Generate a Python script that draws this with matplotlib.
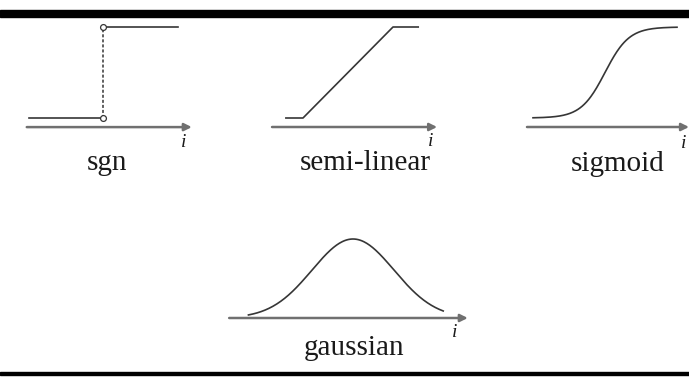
import numpy as np
import matplotlib
matplotlib.use("Agg")
import matplotlib.pyplot as plt
from matplotlib.patches import Rectangle

W, H = 689, 383

# --- data (function shapes)
labels = ["sgn", "semi-linear", "sigmoid", "gaussian"]

sgn_low_x = [-1.0, 0.0]
sgn_low_y = [-1.0, -1.0]
sgn_high_x = [0.0, 1.01]
sgn_high_y = [1.0, 1.0]

semi_x = [-0.19, 0.0, 1.0, 1.28]
semi_y = [0.0, 0.0, 1.0, 1.0]

sig_range = (-6.0, 6.0)      # i range drawn for the sigmoid
gauss_range = (-2.55, 2.2)   # i range drawn for the gaussian (sigma = 1)

# axis (arrow) extents per panel: (start, end, level)
axis_sgn = (-1.03, 1.2, -1.2)
axis_semi = (-0.344, 1.49, -0.099)
axis_sig = (-6.5, 7.0, -0.099)
axis_gauss = (-3.02, 2.8, 0.0)

curve_col = "#363636"
axis_col = "#707070"
text_col = "#1a1a1a"

fig = plt.figure(figsize=(W / 100, H / 100), dpi=100)
fig.patch.set_facecolor("white")


def panel(x_org, y_org, sx, sy, box):
    # box in pixels (left, top, right, bottom); origin/scale give data->pixel mapping
    l, t, r, b = box
    ax = fig.add_axes([l / W, 1 - b / H, (r - l) / W, (b - t) / H])
    ax.set_xlim((l - x_org) / sx, (r - x_org) / sx)
    ax.set_ylim((y_org - b) / sy, (y_org - t) / sy)
    ax.axis("off")
    return ax


def arrow(ax, spec):
    x0, x1, y = spec
    ax.annotate("", xy=(x1, y), xytext=(x0, y),
                arrowprops=dict(arrowstyle="-|>", color=axis_col, lw=1.8,
                                mutation_scale=11, shrinkA=0, shrinkB=0),
                annotation_clip=False)


# sgn
ax1 = panel(103, 72.5, 74, 45.5, (15, 18, 205, 140))
arrow(ax1, axis_sgn)
ax1.plot(sgn_low_x, sgn_low_y, color=curve_col, lw=1.2)
ax1.plot(sgn_high_x, sgn_high_y, color=curve_col, lw=1.2)
ax1.plot([0, 0], [sgn_low_y[-1], sgn_high_y[0]], color=curve_col, lw=1.1,
         linestyle=(0, (2.0, 1.3)))
ax1.plot([0, 0], [sgn_low_y[-1], sgn_high_y[0]], "o", ms=4.2, mfc="white",
         mec=curve_col, mew=0.9, clip_on=False, zorder=5)

# semi-linear
ax2 = panel(303, 118, 90, 91, (262, 18, 445, 140))
arrow(ax2, axis_semi)
ax2.plot(semi_x, semi_y, color=curve_col, lw=1.2)

# sigmoid
ax3 = panel(605, 118, 12, 91, (520, 18, 689, 140))
arrow(ax3, axis_sig)
sx = np.linspace(*sig_range, 200)
ax3.plot(sx, 1 / (1 + np.exp(-sx)), color=curve_col, lw=1.2)

# gaussian
ax4 = panel(353, 318, 41, 79, (222, 225, 475, 330))
arrow(ax4, axis_gauss)
gx = np.linspace(*gauss_range, 200)
ax4.plot(gx, np.exp(-gx ** 2 / 2), color=curve_col, lw=1.2)

# labels
serif = ["Liberation Serif", "DejaVu Serif"]
for name, (px, py) in zip(labels, [(107, 170), (365, 170), (618, 171), (354, 355)]):
    fig.text(px / W, 1 - py / H, name, ha="center", va="baseline",
             family=serif, fontsize=21, color=text_col)
for px, py in [(184, 147), (431, 146), (684, 148), (455, 337)]:
    fig.text(px / W, 1 - py / H, "i", ha="center", va="baseline",
             family=serif, style="italic", fontsize=14, color=text_col)

# black rules top and bottom
fig.patches.append(Rectangle((0, 1 - 17 / H), 1, 7 / H, transform=fig.transFigure,
                             color="black", zorder=10))
fig.patches.append(Rectangle((0, 1 - 375 / H), 1, 3 / H, transform=fig.transFigure,
                             color="black", zorder=10))

fig.savefig("out.png", dpi=100, facecolor="white")
